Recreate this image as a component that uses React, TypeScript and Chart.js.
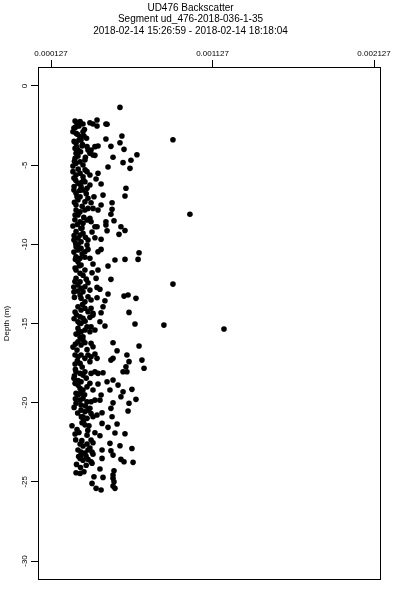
import React, { useEffect, useRef } from "react";
import { Chart, registerables } from "chart.js";

Chart.register(...registerables);

const FONT = "'Liberation Sans', Arial, Helvetica, sans-serif";

const titleLines = [
  "UD476 Backscatter",
  "Segment ud_476-2018-036-1-35",
  "2018-02-14 15:26:59 - 2018-02-14 18:18:04",
];
const yAxisTitle = "Depth (m)";

const xMin = 0.0000465;
const xMax = 0.00217;
const yMin = -31.2;
const yMax = 1.2;

const xTickValues = [0.000127, 0.001127, 0.002127];
const xTickLabels = ["0.000127", "0.001127", "0.002127"];
const yTickValues = [0, -5, -10, -15, -20, -25, -30];
const yTickLabels = ["0", "-5", "-10", "-15", "-20", "-25", "-30"];

// Backscatter values (x) and depth in m (y), same order
const backscatter = [
  // 0 - 6 m
  5.54e-4, 4.74e-4, 8.82e-4, 4.67e-4, 5.66e-4, 5.54e-4, 4.98e-4, 5.79e-4, 6.59e-4, 5.11e-4,
  6.22e-4, 5.73e-4, 6.16e-4, 4.80e-4, 4.12e-4, 4.67e-4, 4.18e-4, 3.99e-4, 4.18e-4, 4.06e-4,
  2.76e-4, 2.88e-4, 3.07e-4, 3.25e-4, 3.00e-4, 3.68e-4, 3.87e-4, 4.12e-4, 2.63e-4, 2.82e-4,
  3.07e-4, 3.25e-4, 3.13e-4, 2.69e-4, 2.82e-4, 2.76e-4, 2.94e-4, 2.82e-4, 3.50e-4, 3.56e-4,
  3.68e-4, 3.75e-4, 3.87e-4, 3.99e-4, 2.76e-4, 2.82e-4, 3.07e-4, 3.25e-4, 3.37e-4, 2.63e-4,
  2.82e-4, 3.07e-4, 3.25e-4, 3.50e-4, 3.68e-4, 2.63e-4, 2.69e-4, 3.19e-4, 3.00e-4, 3.31e-4,
  2.94e-4,
  // 6 - 11 m
  2.94e-4, 3.13e-4, 3.37e-4, 3.50e-4, 3.68e-4, 4.37e-4, 5.91e-4, 5.85e-4, 2.82e-4, 3.07e-4,
  2.94e-4, 3.37e-4, 3.56e-4, 3.93e-4, 4.49e-4, 3.75e-4, 4.37e-4, 5.05e-4, 5.05e-4, 4.98e-4,
  2.82e-4, 2.82e-4, 3.07e-4, 2.94e-4, 3.37e-4, 3.56e-4, 3.87e-4, 4.18e-4, 3.07e-4, 3.25e-4,
  3.50e-4, 3.68e-4, 3.75e-4, 3.99e-4, 4.12e-4, 4.67e-4, 4.67e-4, 4.74e-4, 5.17e-4, 5.60e-4,
  5.85e-4, 5.48e-4, 2.82e-4, 3.07e-4, 3.25e-4, 2.94e-4, 3.13e-4, 3.99e-4, 4.37e-4, 2.82e-4,
  2.94e-4, 3.13e-4, 3.37e-4, 3.56e-4, 3.50e-4, 4.37e-4, 4.18e-4, 6.72e-4, 2.82e-4, 3.07e-4,
  3.37e-4, 3.68e-4, 5.23e-4, 5.85e-4, 6.66e-4, 9.87e-4, 2.69e-4, 2.76e-4, 2.63e-4, 2.69e-4,
  3.25e-4, 3.19e-4, 3.56e-4, 2.69e-4, 3.81e-4,
  // 11 - 16 m
  2.94e-4, 3.13e-4, 2.82e-4, 3.07e-4, 3.37e-4, 3.87e-4, 4.80e-4, 3.81e-4, 4.18e-4, 4.06e-4,
  4.98e-4, 8.82e-4, 2.82e-4, 3.07e-4, 2.94e-4, 3.13e-4, 3.37e-4, 3.25e-4, 3.07e-4, 3.56e-4,
  3.68e-4, 4.12e-4, 4.30e-4, 4.80e-4, 5.79e-4, 6.04e-4, 6.53e-4, 4.12e-4, 4.61e-4, 3.13e-4,
  3.37e-4, 3.56e-4, 3.75e-4, 4.49e-4, 6.10e-4, 2.94e-4, 3.13e-4, 3.37e-4, 3.56e-4, 3.75e-4,
  3.87e-4, 4.37e-4, 3.07e-4, 3.25e-4, 2.94e-4, 3.13e-4, 3.68e-4, 3.87e-4, 4.30e-4, 4.61e-4,
  6.47e-4, 8.26e-4, 1.198e-3, 2.94e-4, 3.13e-4, 3.37e-4, 3.50e-4, 3.68e-4, 3.75e-4, 3.99e-4,
  3.25e-4, 3.07e-4, 2.76e-4, 2.69e-4, 2.76e-4, 2.82e-4,
  // 16 - 21 m
  2.94e-4, 3.13e-4, 3.37e-4, 3.75e-4, 3.87e-4, 5.11e-4, 6.72e-4, 2.76e-4, 2.94e-4, 3.13e-4,
  3.37e-4, 3.56e-4, 3.75e-4, 3.99e-4, 4.12e-4, 3.68e-4, 2.76e-4, 3.07e-4, 5.36e-4, 5.11e-4,
  4.98e-4, 5.97e-4, 6.10e-4, 6.90e-4, 5.91e-4, 5.73e-4, 5.97e-4, 7.03e-4, 2.82e-4, 3.07e-4,
  3.25e-4, 3.37e-4, 3.75e-4, 3.99e-4, 4.18e-4, 4.49e-4, 2.76e-4, 2.94e-4, 3.07e-4, 3.25e-4,
  3.50e-4, 3.13e-4, 3.68e-4, 3.87e-4, 4.18e-4, 4.74e-4, 5.11e-4, 5.42e-4, 4.92e-4, 5.73e-4,
  6.28e-4, 5.60e-4, 6.53e-4, 4.37e-4, 4.30e-4, 2.94e-4, 3.07e-4, 3.25e-4, 2.82e-4, 3.13e-4,
  3.50e-4, 3.75e-4, 3.99e-4, 5.11e-4, 4.98e-4, 6.10e-4, 6.04e-4, 3.13e-4, 3.37e-4, 3.56e-4,
  3.68e-4, 3.75e-4, 3.25e-4, 3.50e-4, 3.87e-4, 4.12e-4, 4.43e-4, 5.05e-4, 2.63e-4, 2.69e-4,
  2.88e-4, 2.82e-4,
  // 21 - 26 m
  2.57e-4, 3.19e-4, 3.37e-4, 3.62e-4, 4.43e-4, 4.80e-4, 5.36e-4, 2.76e-4, 3.00e-4, 3.50e-4,
  3.99e-4, 4.30e-4, 5.23e-4, 5.85e-4, 3.75e-4, 3.87e-4, 4.92e-4, 5.54e-4, 6.28e-4, 3.07e-4,
  3.25e-4, 3.50e-4, 3.68e-4, 2.94e-4, 3.13e-4, 3.37e-4, 3.56e-4, 3.81e-4, 4.43e-4, 4.98e-4,
  5.11e-4, 3.13e-4, 3.44e-4, 3.87e-4, 4.43e-4, 5.60e-4, 5.79e-4, 6.35e-4, 3.07e-4, 3.25e-4,
  3.56e-4, 3.75e-4, 3.81e-4, 4.30e-4, 2.82e-4, 3.07e-4, 3.31e-4, 5.17e-4, 5.11e-4, 5.11e-4,
  5.17e-4, 3.93e-4, 4.49e-4, 3.81e-4, 5.11e-4, 5.23e-4, 4.06e-4, 4.37e-4,
  // dense core, all depths
  2.79e-4, 3.34e-4, 2.91e-4, 3.47e-4, 2.70e-4, 3.22e-4, 2.85e-4, 3.10e-4, 3.40e-4, 2.72e-4,
  2.95e-4, 3.38e-4, 2.80e-4, 3.15e-4, 2.70e-4, 3.05e-4, 3.45e-4, 2.88e-4, 2.72e-4, 3.20e-4,
  2.98e-4, 2.75e-4, 3.30e-4, 2.90e-4, 3.12e-4, 2.70e-4, 3.40e-4, 2.95e-4, 3.20e-4, 2.78e-4,
  3.02e-4, 3.25e-4, 2.75e-4, 3.45e-4, 2.92e-4, 2.72e-4, 3.22e-4, 2.85e-4, 3.38e-4, 2.70e-4,
  3.00e-4, 3.25e-4, 2.78e-4, 3.50e-4, 2.90e-4, 3.20e-4, 2.72e-4, 3.45e-4, 2.95e-4, 3.10e-4,
  2.78e-4, 3.40e-4, 2.92e-4, 3.15e-4, 2.70e-4, 3.30e-4, 2.88e-4, 3.55e-4, 2.80e-4, 3.18e-4,
  2.98e-4, 3.45e-4, 2.85e-4, 3.10e-4, 2.78e-4, 3.05e-4, 2.80e-4, 3.28e-4, 2.68e-4, 3.35e-4,
];

const depth = [
  // 0 - 6 m
  -1.35, -2.42, -3.39, -3.35, -3.16, -3.58, -3.81, -4.0, -4.34, -4.5,
  -4.69, -4.84, -5.2, -5.12, -2.15, -2.4, -3.79, -4.38, -5.51, -5.87,
  -2.21, -2.34, -2.24, -2.4, -2.53, -2.32, -2.4, -2.53, -2.89, -2.99,
  -3.2, -2.89, -3.41, -2.65, -3.62, -3.94, -4.04, -4.25, -3.83, -4.04,
  -4.25, -4.04, -4.36, -3.83, -4.57, -4.88, -4.78, -4.99, -4.67, -5.41,
  -5.62, -5.51, -5.73, -5.41, -5.62, -5.05, -5.81, -3.79, -3.41, -3.16,
  -4.42,
  // 6 - 11 m
  -6.15, -6.36, -6.05, -6.46, -6.25, -6.19, -6.46, -6.95, -6.78, -6.99,
  -7.2, -7.31, -7.09, -6.99, -6.89, -7.37, -7.52, -7.37, -7.79, -8.1,
  -7.52, -7.83, -7.94, -8.15, -7.83, -7.73, -7.73, -7.83, -8.57, -8.67,
  -8.46, -8.36, -8.57, -8.89, -8.89, -8.57, -8.78, -9.14, -8.51, -8.89,
  -9.13, -9.37, -9.2, -9.41, -9.3, -9.62, -9.84, -9.58, -9.68, -10.15,
  -10.36, -10.25, -10.47, -10.32, -10.04, -10.32, -10.47, -10.53, -10.78, -10.88,
  -10.82, -10.88, -10.99, -10.95, -10.95, -8.1, -6.57, -8.15, -8.84, -9.73,
  -6.57, -8.97, -9.73, -10.49, -9.22,
  // 11 - 16 m
  -11.1, -11.31, -11.62, -11.83, -11.62, -11.24, -11.37, -11.79, -11.62, -12.15,
  -12.21, -12.51, -12.15, -12.36, -12.57, -12.78, -12.68, -12.99, -13.2, -12.43,
  -12.89, -12.72, -12.84, -13.14, -13.27, -13.2, -13.41, -13.37, -13.56, -13.41,
  -13.63, -13.31, -13.52, -13.94, -14.3, -13.94, -14.15, -14.04, -14.26, -14.04,
  -14.36, -14.32, -14.57, -14.67, -14.89, -14.99, -14.61, -14.47, -14.89, -15.16,
  -15.03, -15.1, -15.35, -15.31, -15.52, -15.41, -15.21, -15.52, -15.21, -15.41,
  -15.84, -15.87, -11.5, -13.01, -14.28, -15.67,
  // 16 - 21 m
  -16.15, -16.36, -16.22, -16.25, -16.47, -16.22, -16.42, -16.99, -17.1, -16.99,
  -17.2, -16.99, -17.1, -16.93, -17.2, -17.41, -17.56, -17.52, -16.72, -17.2,
  -17.31, -16.99, -17.41, -17.31, -17.73, -18.05, -18.05, -17.83, -18.05, -18.15,
  -18.26, -18.05, -18.15, -18.05, -18.15, -18.11, -18.78, -18.89, -19.1, -19.2,
  -19.0, -18.68, -18.78, -19.2, -18.82, -18.68, -18.57, -18.89, -19.2, -19.31,
  -19.16, -19.63, -19.79, -19.52, -19.84, -19.52, -19.84, -19.73, -20.04, -20.15,
  -19.94, -19.94, -19.84, -20.01, -20.36, -20.04, -20.53, -20.47, -20.57, -20.47,
  -20.36, -20.68, -20.89, -20.99, -20.89, -20.78, -20.64, -20.89, -16.49, -18.46,
  -16.68, -19.41,
  // 21 - 26 m
  -21.46, -21.27, -21.4, -21.46, -21.31, -21.56, -21.35, -21.98, -21.88, -22.05,
  -21.9, -22.09, -21.92, -21.96, -22.36, -22.53, -22.57, -22.72, -22.89, -22.61,
  -22.74, -22.61, -22.87, -22.99, -23.12, -23.18, -22.99, -23.12, -22.99, -23.04,
  -23.31, -23.31, -23.37, -23.25, -23.52, -23.58, -23.73, -23.77, -23.52, -23.63,
  -23.58, -23.73, -23.83, -24.19, -24.43, -24.47, -24.36, -24.3, -24.57, -24.78,
  -25.0, -24.68, -24.72, -25.1, -25.27, -25.41, -25.41, -25.52,
  // dense core, all depths
  -2.6, -2.75, -3.05, -3.3, -3.5, -3.7, -3.85, -4.15, -4.5, -4.75,
  -5.25, -5.3, -5.95, -6.1, -6.35, -6.6, -6.8, -7.0, -7.35, -7.6,
  -8.0, -8.45, -8.3, -8.75, -9.0, -9.45, -9.55, -10.0, -10.6, -10.95,
  -11.35, -11.95, -12.35, -12.2, -12.95, -13.35, -13.8, -14.45, -14.85, -14.7,
  -15.55, -16.05, -16.3, -16.65, -17.35, -17.75, -18.3, -18.45, -18.6, -19.4,
  -19.75, -20.2, -20.65, -20.9, -20.3, -21.1, -21.7, -21.75, -22.35, -22.4,
  -23.4, -23.95, -23.9, -24.1, -17.9, -15.0, -9.95, -5.95, -12.7, -19.5,
];

const framePlugin = {
  id: "plotFrame",
  afterDraw(chart: any) {
    const { ctx, chartArea } = chart;
    const l = Math.round(chartArea.left) + 0.5;
    const t = Math.round(chartArea.top) + 0.5;
    const r = Math.round(chartArea.right) - 0.5;
    const b = Math.round(chartArea.bottom) - 0.5;
    ctx.save();
    ctx.strokeStyle = "#000";
    ctx.lineWidth = 1;
    ctx.strokeRect(l, t, r - l, b - t);
    ctx.restore();
  },
};

export default function App() {
  const ref = useRef<HTMLCanvasElement>(null);

  useEffect(() => {
    const points = backscatter.map((x, i) => ({ x, y: depth[i] }));
    const chart = new Chart(ref.current as HTMLCanvasElement, {
      type: "scatter",
      data: {
        datasets: [
          {
            data: points,
            backgroundColor: "#000",
            borderColor: "#000",
            borderWidth: 0,
            pointRadius: 2.8,
            pointHoverRadius: 2.8,
          },
        ],
      },
      options: {
        responsive: false,
        animation: false,
        events: [],
        layout: { padding: { left: 0, top: 0, right: 19, bottom: 20 } },
        plugins: {
          legend: { display: false },
          tooltip: { enabled: false },
          title: {
            display: true,
            text: titleLines,
            color: "#000",
            font: { family: FONT, size: 10, weight: "normal", lineHeight: 1.15 },
            padding: { top: 2, bottom: 0 },
          },
        },
        scales: {
          x: {
            type: "linear",
            position: "top",
            min: xMin,
            max: xMax,
            afterBuildTicks: (s: any) => {
              s.ticks = xTickValues.map((v) => ({ value: v }));
            },
            afterFit: (s: any) => {
              s.height = 30.5;
            },
            ticks: {
              autoSkip: false,
              maxRotation: 0,
              padding: 1,
              color: "#000",
              font: { family: FONT, size: 8 },
              callback: (v: any) => xTickLabels[xTickValues.indexOf(v)] ?? "",
            },
            grid: { drawOnChartArea: false, drawTicks: true, tickLength: 7, color: "#000", lineWidth: 1 },
            border: { display: false },
          },
          y: {
            type: "linear",
            min: yMin,
            max: yMax,
            afterBuildTicks: (s: any) => {
              s.ticks = yTickValues.map((v) => ({ value: v }));
            },
            afterFit: (s: any) => {
              s.width = 38;
            },
            ticks: {
              autoSkip: false,
              minRotation: 90,
              maxRotation: 90,
              crossAlign: "center",
              padding: 0,
              color: "#000",
              font: { family: FONT, size: 8 },
              callback: (v: any) => yTickLabels[yTickValues.indexOf(v)] ?? "",
            },
            title: {
              display: true,
              text: yAxisTitle,
              color: "#000",
              font: { family: FONT, size: 8 },
              padding: { top: 2, bottom: 0 },
            },
            grid: { drawOnChartArea: false, drawTicks: true, tickLength: 7, color: "#000", lineWidth: 1 },
            border: { display: false },
          },
        },
      },
      plugins: [framePlugin],
    } as any);
    return () => chart.destroy();
  }, []);

  return (
    <div style={{ position: "absolute", left: 0, top: 0, width: 400, height: 600, background: "#fff" }}>
      <canvas ref={ref} width={400} height={600} style={{ display: "block" }} />
    </div>
  );
}
